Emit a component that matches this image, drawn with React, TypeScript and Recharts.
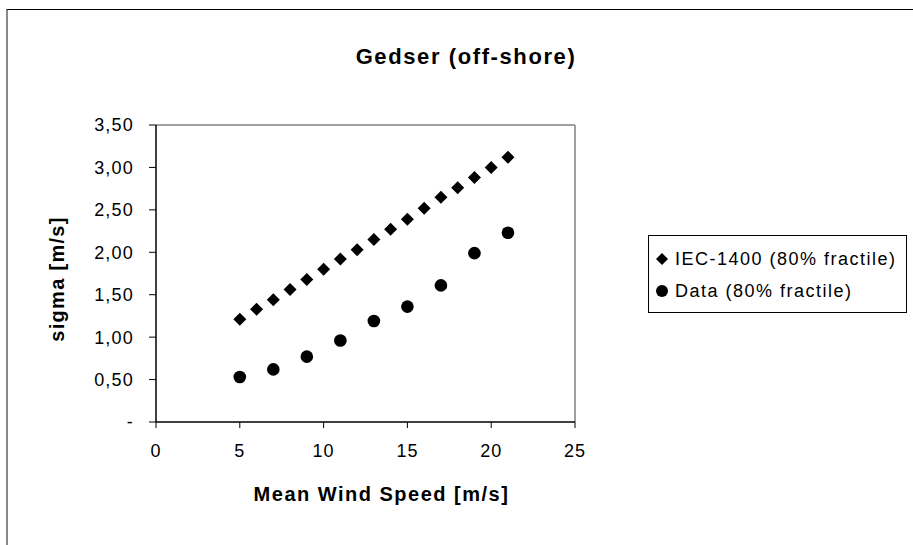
import React from "react";
import {Label, ReferenceLine, Scatter, ScatterChart, XAxis, YAxis} from "recharts";

const iecSpeeds = [5, 6, 7, 8, 9, 10, 11, 12, 13, 14, 15, 16, 17, 18, 19, 20, 21];
const iecSigma = [1.21, 1.33, 1.44, 1.56, 1.68, 1.80, 1.92, 2.03, 2.15, 2.27, 2.39, 2.52, 2.65, 2.76, 2.88, 3.00, 3.12];
const dataSpeeds = [5, 7, 9, 11, 13, 15, 17, 19, 21];
const dataSigma = [0.53, 0.62, 0.77, 0.96, 1.19, 1.36, 1.61, 1.99, 2.23];
const seriesNames = ['IEC-1400 (80% fractile)', 'Data (80% fractile)'];
const xTicks = [0, 5, 10, 15, 20, 25];
const yTicks = [0, 0.5, 1, 1.5, 2, 2.5, 3, 3.5];

const iecData = iecSpeeds.map((x, i) => ({x, y: iecSigma[i]}));
const measData = dataSpeeds.map((x, i) => ({x, y: dataSigma[i]}));

const font = "'Liberation Sans', Arial, sans-serif";

const fmtY = (v: number) => v === 0 ? '-' : v.toFixed(2).replace('.', ',');

const Diamond = (props: any) => {
  const {cx, cy} = props;
  const r = 6.5;
  return <polygon points={`${cx},${cy - r} ${cx + r},${cy} ${cx},${cy + r} ${cx - r},${cy}`} fill="#000"/>;
};

const Dot = (props: any) => {
  const {cx, cy} = props;
  return <circle cx={cx} cy={cy} r={6.3} fill="#000"/>;
};

const ChartLegend = () => (
  <div style={{position: 'absolute', left: 648, top: 235, border: '1px solid #000', width: 259, height: 78,
    boxSizing: 'border-box', background: '#fff', fontFamily: font, fontSize: 18, letterSpacing: 1.5,
    padding: '7px 0 0 6px'}}>
    {seriesNames.map((name, i) => (
      <div key={`leg-${i}`} style={{display: 'flex', alignItems: 'center', height: 32}}>
        <svg width={14} height={14} style={{marginRight: 6}}>
          {i === 0
            ? <polygon points="7,1 13,7 7,13 1,7" fill="#000"/>
            : <circle cx={7} cy={7} r={6} fill="#000"/>}
        </svg>
        <span>{name}</span>
      </div>
    ))}
  </div>
);

export default function App() {
  return (
    <div style={{position: 'absolute', left: 0, top: 0, width: 913, height: 545, background: '#fff', overflow: 'hidden'}}>
      <div style={{position: 'absolute', left: 6, top: 9, width: 1000, height: 1000, borderLeft: '2px solid #888',
        borderTop: '1px solid #000'}}/>
      <div style={{position: 'absolute', left: 266, top: 44, width: 400, textAlign: 'center', fontFamily: font,
        fontWeight: 'bold', fontSize: 22, letterSpacing: 1.6}}>
        Gedser (off-shore)
      </div>
      <div style={{position: 'absolute', left: 0, top: 0}}>
        <ScatterChart width={913} height={545} margin={{top: 125, right: 338, bottom: 93, left: 96}}>
          <XAxis type="number" dataKey="x" domain={[0, 25]} ticks={xTicks} interval={0} height={30}
                 axisLine={{stroke: '#000', strokeWidth: 1.5}} tickLine={{stroke: '#000'}} tickSize={6}
                 tickMargin={16}
                 tick={{fill: '#000', fontFamily: font, fontSize: 18, letterSpacing: 1}}>
            <Label value="Mean Wind Speed [m/s]" position="bottom" offset={35} dx={16}
                   style={{fill: '#000', fontFamily: font, fontWeight: 'bold', fontSize: 20, letterSpacing: 1.5}}/>
          </XAxis>
          <YAxis type="number" dataKey="y" domain={[0, 3.5]} ticks={yTicks} interval={0} width={60}
                 tickFormatter={fmtY}
                 axisLine={{stroke: '#000', strokeWidth: 1.5}} tickLine={{stroke: '#000'}} tickSize={7}
                 tickMargin={15}
                 tick={{fill: '#000', fontFamily: font, fontSize: 18, letterSpacing: 1.2}}>
            <Label content={() => (
              <text x={59} y={279} transform="rotate(-90 59 279)" textAnchor="middle" dominantBaseline="middle"
                    fill="#000" fontFamily={font} fontWeight="bold" fontSize={20} letterSpacing={1.3}>
                sigma [m/s]
              </text>
            )}/>
          </YAxis>
          <ReferenceLine y={3.5} stroke="#808080" strokeWidth={1.5}/>
          <ReferenceLine x={25} stroke="#808080" strokeWidth={1.5}/>
          <Scatter name={seriesNames[0]} data={iecData} shape={Diamond} isAnimationActive={false}/>
          <Scatter name={seriesNames[1]} data={measData} shape={Dot} isAnimationActive={false}/>
        </ScatterChart>
      </div>
      <ChartLegend/>
    </div>
  );
}
